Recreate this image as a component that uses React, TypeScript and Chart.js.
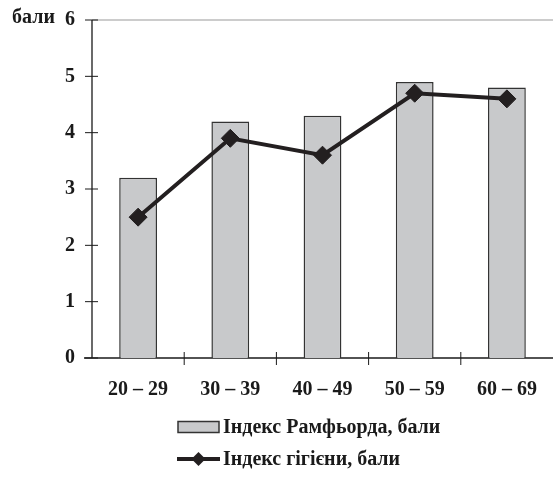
import React, { useEffect, useRef } from "react";
import { Chart, registerables } from "chart.js";

Chart.register(...registerables);

const categories = ["20 – 29", "30 – 39", "40 – 49", "50 – 59", "60 – 69"];
const ramfjordValues = [3.2, 4.2, 4.3, 4.9, 4.8];
const hygieneValues = [2.5, 3.9, 3.6, 4.7, 4.6];
const yTicks = [0, 1, 2, 3, 4, 5, 6];
const yAxisTitle = "бали";
const ramfjordLabel = "Індекс Рамфьорда, бали";
const hygieneLabel = "Індекс гігієни, бали";

const FONT = "'Liberation Serif', 'Times New Roman', serif";
const BAR_FILL = "#c8c9cb";
const BAR_BORDER = "#333333";
const LINE_COLOR = "#231f20";

const axesPlugin = {
  id: "customAxes",
  beforeDatasetsDraw(chart: any) {
    const { ctx, chartArea } = chart;
    const { left, right, top, bottom } = chartArea;
    const xs = chart.scales.x;
    const ys = chart.scales.y;
    ctx.save();
    ctx.strokeStyle = "#9a9a9a";
    ctx.lineWidth = 1.2;
    ctx.beginPath();
    ctx.moveTo(left, top);
    ctx.lineTo(right, top);
    ctx.stroke();
    ctx.strokeStyle = "#1a1a1a";
    ctx.lineWidth = 1.3;
    ctx.beginPath();
    ctx.moveTo(left, top);
    ctx.lineTo(left, bottom);
    ctx.stroke();
    ctx.beginPath();
    ctx.moveTo(left - 8, bottom);
    ctx.lineTo(right, bottom);
    ctx.stroke();
    ctx.lineWidth = 1;
    yTicks.forEach((v) => {
      const y = ys.getPixelForValue(v);
      ctx.beginPath();
      ctx.moveTo(left - 7, y);
      ctx.lineTo(left + 6, y);
      ctx.stroke();
    });
    for (let i = 1; i < categories.length; i++) {
      const x = (xs.getPixelForValue(i - 1) + xs.getPixelForValue(i)) / 2;
      ctx.beginPath();
      ctx.moveTo(x, bottom - 6);
      ctx.lineTo(x, bottom + 7);
      ctx.stroke();
    }
    ctx.fillStyle = "#1a1a1a";
    ctx.font = `bold 20px ${FONT}`;
    ctx.textAlign = "right";
    ctx.textBaseline = "middle";
    ctx.fillText(yAxisTitle, left - 37, top - 2);
    ctx.restore();
  },
  afterDraw(chart: any) {
    const { ctx } = chart;
    ctx.save();
    const boxX = 178;
    const boxW = 41;
    const textX = 223;
    const y1 = 427;
    const y2 = 459;
    ctx.fillStyle = BAR_FILL;
    ctx.strokeStyle = BAR_BORDER;
    ctx.lineWidth = 1.5;
    ctx.fillRect(boxX, y1 - 5.5, boxW, 11);
    ctx.strokeRect(boxX, y1 - 5.5, boxW, 11);
    ctx.strokeStyle = LINE_COLOR;
    ctx.lineWidth = 4;
    ctx.beginPath();
    ctx.moveTo(boxX - 1, y2);
    ctx.lineTo(boxX + boxW + 1, y2);
    ctx.stroke();
    const cx = boxX + boxW / 2;
    const r = 7;
    ctx.fillStyle = LINE_COLOR;
    ctx.beginPath();
    ctx.moveTo(cx - r, y2);
    ctx.lineTo(cx, y2 - r);
    ctx.lineTo(cx + r, y2);
    ctx.lineTo(cx, y2 + r);
    ctx.closePath();
    ctx.fill();
    ctx.fillStyle = "#1a1a1a";
    ctx.font = `bold 20px ${FONT}`;
    ctx.textAlign = "left";
    ctx.textBaseline = "middle";
    ctx.fillText(ramfjordLabel, textX, y1 + 1);
    ctx.fillText(hygieneLabel, textX, y2 + 1);
    ctx.restore();
  },
};

export default function App() {
  const ref = useRef<HTMLCanvasElement | null>(null);
  useEffect(() => {
    document.body.style.margin = "0";
    const canvas = ref.current;
    if (!canvas) return;
    const chart = new Chart(canvas, {
      type: "bar",
      data: {
        labels: categories,
        datasets: [
          {
            type: "line",
            label: hygieneLabel,
            data: hygieneValues,
            borderColor: LINE_COLOR,
            backgroundColor: LINE_COLOR,
            borderWidth: 4,
            pointStyle: "rectRot",
            pointRadius: 9,
            pointBorderWidth: 1,
            pointBackgroundColor: LINE_COLOR,
            pointBorderColor: LINE_COLOR,
            tension: 0,
            order: 0,
          } as any,
          {
            type: "bar",
            label: ramfjordLabel,
            data: ramfjordValues,
            backgroundColor: BAR_FILL,
            borderColor: BAR_BORDER,
            borderWidth: 1.5,
            barPercentage: 0.41,
            categoryPercentage: 1,
            order: 1,
          },
        ],
      },
      options: {
        responsive: false,
        animation: false,
        devicePixelRatio: 1,
        layout: { padding: { top: 20, left: 0, right: 0, bottom: 79 } },
        plugins: {
          legend: { display: false },
          tooltip: { enabled: false },
        },
        scales: {
          x: {
            grid: { display: false, drawTicks: false },
            border: { display: false },
            ticks: {
              color: "#1a1a1a",
              font: { family: FONT, size: 20, weight: "bold" },
              padding: 20,
              maxRotation: 0,
            },
            afterFit: (s: any) => {
              s.height = 40;
              s.paddingLeft = 0;
              s.paddingRight = 0;
            },
          },
          y: {
            min: 0,
            max: 6,
            grid: { display: false, drawTicks: false },
            border: { display: false },
            ticks: {
              stepSize: 1,
              color: "#1a1a1a",
              font: { family: FONT, size: 20, weight: "bold" },
              padding: 17,
            },
            afterFit: (s: any) => {
              s.width = 92;
              s.paddingTop = 0;
              s.paddingBottom = 0;
            },
          },
        },
      },
      plugins: [axesPlugin],
    });
    return () => chart.destroy();
  }, []);
  return (
    <div
      style={{
        position: "absolute",
        left: 0,
        top: 0,
        width: 559,
        height: 477,
        overflow: "hidden",
        background: "#ffffff",
      }}
    >
      <canvas ref={ref} width={563} height={477} style={{ display: "block" }} />
    </div>
  );
}
